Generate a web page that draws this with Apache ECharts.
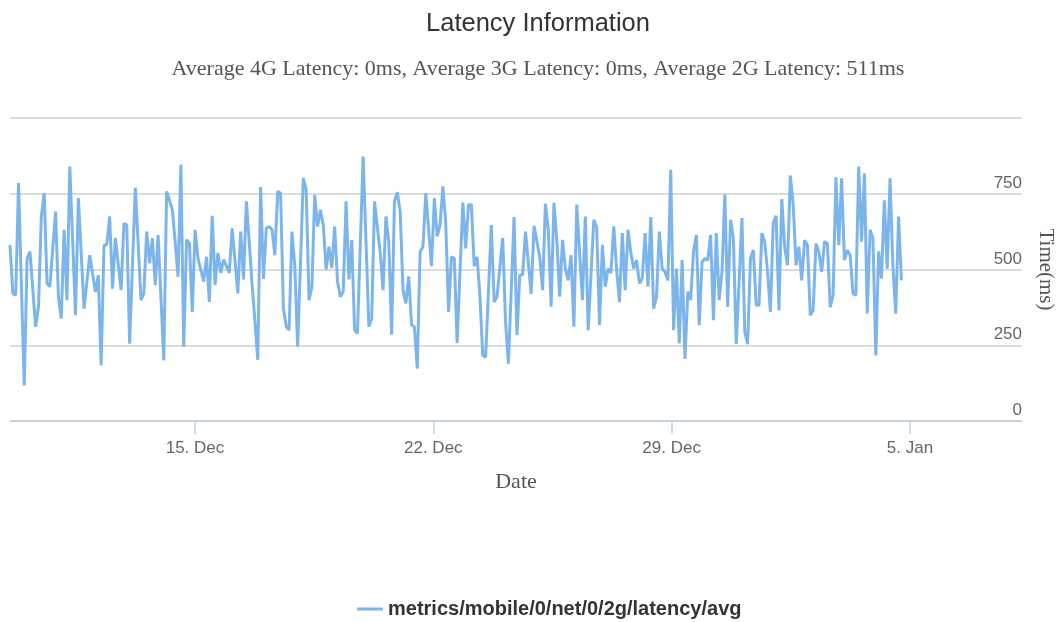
<!DOCTYPE html>
<html>
<head>
<meta charset="utf-8">
<title>Latency Information</title>
<script src="https://cdn.jsdelivr.net/npm/echarts@6/dist/echarts.min.js"></script>
<style>
  html, body { margin: 0; padding: 0; background: #fff; }
  #chart { width: 1058px; height: 622px; }
</style>
</head>
<body>
<div id="chart"></div>
<script>
const seriesName = "metrics/mobile/0/net/0/2g/latency/avg";
const subtitle = "Average 4G Latency: 0ms, Average 3G Latency: 0ms, Average 2G Latency: 511ms";

// 2g latency samples (ms), roughly every 2 hours
const latency2g = [
  581,421,415,785,451,117,537,559,435,311,377,675,752,454,443,567,691,410,338,631,399,840,595,349,736,553,371,459,547,486,
  426,481,184,578,584,675,437,604,518,432,652,647,255,512,770,585,399,421,625,520,603,448,614,407,200,758,728,697,590,476,
  846,245,598,587,360,631,537,499,460,542,393,677,449,555,489,533,511,489,636,529,421,625,467,725,590,450,330,202,772,469,
  636,642,631,547,758,752,371,311,300,625,511,245,523,802,763,399,443,746,642,697,647,500,575,505,642,460,410,427,725,467,
  597,300,289,581,873,592,311,338,725,640,555,432,675,592,285,725,755,691,432,388,477,317,311,173,559,575,752,631,511,736,
  609,647,774,653,360,542,537,257,489,721,570,714,714,511,542,414,216,211,429,647,393,410,507,604,327,189,431,673,283,481,
  483,625,522,420,644,593,542,432,717,631,377,721,598,410,598,503,464,547,311,714,555,399,675,300,482,664,639,317,581,443,
  503,489,642,500,392,620,432,631,555,503,531,454,470,620,443,673,371,410,625,503,492,464,829,300,503,256,531,205,427,399,
  558,614,316,525,536,531,614,333,620,399,492,747,376,664,603,254,459,670,294,254,536,564,382,382,620,592,492,360,653,677,
  365,732,575,514,810,713,514,575,464,597,580,349,365,586,558,492,592,586,376,415,804,580,801,531,564,547,420,415,840,592,
  817,355,631,603,216,560,470,728,503,801,514,354,675,464
];

const firstSample = Date.UTC(2014, 11, 9, 13, 36);
const lastSample = Date.UTC(2015, 0, 4, 18, 0);
const axisStart = firstSample;
const axisEnd = Date.UTC(2015, 0, 8, 7, 0);

const dateTicks = [Date.UTC(2014, 11, 15), Date.UTC(2014, 11, 22), Date.UTC(2014, 11, 29), Date.UTC(2015, 0, 5)];
const months = ["Jan", "Feb", "Mar", "Apr", "May", "Jun", "Jul", "Aug", "Sep", "Oct", "Nov", "Dec"];
const yShownTicks = [0, 250, 500, 750];

const step = (lastSample - firstSample) / (latency2g.length - 1);
const points = latency2g.map((v, i) => [firstSample + i * step, v]);

const sans = "'Liberation Sans', Arial, sans-serif";
const serif = "'Liberation Serif', 'Times New Roman', serif";

const chart = echarts.init(document.getElementById("chart"));
chart.setOption({
  animation: false,
  backgroundColor: "#fff",
  title: {
    text: "Latency Information",
    subtext: subtitle,
    left: 533,
    textAlign: "center",
    top: 4,
    itemGap: 17,
    textStyle: { fontFamily: sans, fontSize: 25.5, fontWeight: "normal", color: "#333", lineHeight: 30 },
    subtextStyle: { fontFamily: serif, fontSize: 22, color: "#555", lineHeight: 26 }
  },
  legend: {
    left: 357,
    top: 599,
    padding: 0,
    icon: "rect",
    itemWidth: 26,
    itemHeight: 3,
    itemGap: 10,
    textStyle: { fontFamily: sans, fontSize: 20, fontWeight: "bold", color: "#333" },
    data: [seriesName]
  },
  grid: { left: 10, right: 36, top: 118, bottom: 201, outerBoundsMode: "none" },
  xAxis: {
    type: "value",
    min: axisStart,
    max: axisEnd,
    name: "Date",
    nameLocation: "middle",
    nameGap: 50,
    nameTextStyle: { fontFamily: serif, fontSize: 22, color: "#555" },
    axisLine: { show: true, lineStyle: { color: "#C0D0E0", width: 1.5 } },
    axisTick: { show: true, length: 13, lineStyle: { color: "#C0D0E0", width: 1.5 }, customValues: dateTicks },
    axisLabel: {
      fontFamily: sans, fontSize: 17, color: "#666", margin: 19,
      customValues: dateTicks,
      formatter: (v) => { const d = new Date(v); return d.getUTCDate() + ". " + months[d.getUTCMonth()]; }
    },
    splitLine: { show: false }
  },
  yAxis: {
    type: "value",
    position: "right",
    min: 0,
    max: 1000,
    interval: 250,
    name: "Time(ms)",
    nameLocation: "middle",
    nameRotate: -90,
    nameGap: 13,
    nameTextStyle: { fontFamily: serif, fontSize: 21, color: "#555" },
    axisLine: { show: false },
    axisTick: { show: false },
    axisLabel: {
      inside: true,
      margin: 0,
      verticalAlign: "bottom",
      padding: [0, 0, 2, 0],
      fontFamily: sans, fontSize: 17, color: "#666",
      formatter: (v) => (yShownTicks.includes(v) ? String(v) : "")
    },
    splitLine: { lineStyle: { color: "#D0D0D0", width: 1.5 } }
  },
  series: [{
    name: seriesName,
    type: "line",
    showSymbol: false,
    symbol: "none",
    data: points,
    lineStyle: { color: "#7cb5ec", width: 3 },
    itemStyle: { color: "#7cb5ec" }
  }]
});
</script>
</body>
</html>
